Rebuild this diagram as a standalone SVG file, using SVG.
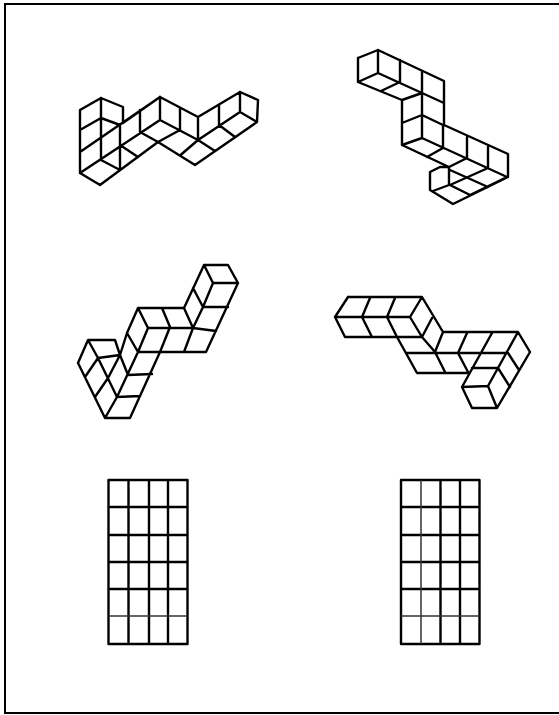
<svg xmlns="http://www.w3.org/2000/svg" width="559" height="715" viewBox="0 0 559 715">
<style>.l{fill:none;stroke:#000;stroke-width:2.4;stroke-linejoin:round;stroke-linecap:round}.t{fill:none;stroke:#333;stroke-width:1.5}.f{fill:none;stroke:#000;stroke-width:2}</style>
<rect width="559" height="715" fill="#fff"/>
<path class="f" d="M559 4H5V713H559"/>
<g id="shape1"><path class="l" d="M80 110V173L100 185L158 142L195 165L257 122L258 100L240 92L198 117L160 97L123 123M80 110L101 98L123 107V123M101 98V160M80 130L101 118L120 125V170M80 152L160 97M80 173L160 120M101 160L120 170M120 145L138 157M140 110V132L158 142M160 97V120L198 140L240 112V92M180 108V130L158 142M198 117V140L180 155.500M219 105V125L235 137M240 112L257 122M198 140L215 151"/></g>
<g id="shape2"><path class="l" d="M358 58L378 50L444 81V125L508 154V177L453 204L430 190V172L440 167H449L402 145V100L358 82V58M378 50V73L358 82M378 73L444 103M400 60V82L381 91M422 72V138L402 145M422 93L402 100M402 123L422 115L443 125M422 138L507 177M443 125V148L427 157M467 137V158L449 167V185L433 191M488 147V168L450 185L470 195L507 177M450 170L488 187L470 195"/></g>
<g id="shape3"><path class="l" d="M204 265H228L238 283H213L204 265L184 308H138L127 333L120 355L115 340H88L78 363L105 418H130L160 352M238 283L206 352H138L127 333M213 283L203 307L193 328L184 352M193 288L203 307H228M184 308L193 328M138 308L148 328L138 352L117 397L105 418M148 328H193L216 331M162 308L170 327L160 352M88 340L98 358L117 397M98 358L120 355M117 397L140 396M128 375L152 374M120 355L128 375M85 377L98 358M120 355L108 378L95 397"/></g>
<g id="shape4"><path class="l" d="M348 297H422L443 332H518L530 352L497 408H472L462 387L488 386L497 408M348 297L335 317L345 337H422M335 317H410L422 297M410 317L422 337L435 352L445 372M370 298L362 317L372 337M395 298L387 317L397 337L417 373H468M432 318L422 337M407 353H508M443 332L435 352M467 333L458 353L468 372M492 333L462 387M518 332L488 386M472 368H498L510 387M508 353L519 370"/></g>
<g id="grid1"><path class="l" style="stroke-linecap:square" d="M108.500 480H187.500V644H108.500ZM128.500 480V644M149 480V644M168 480V644M108.500 507H187.500M108.500 535H187.500M108.500 562H187.500M108.500 589H187.500"/><path class="t" d="M108.500 616H187.500"/></g>
<g id="grid2"><path class="l" style="stroke-linecap:square" d="M401 480H479.500V644H401ZM440.500 480V644M460 480V644M401 507H479.500M401 535H479.500M401 562H479.500M401 589H479.500"/><path class="t" d="M421 480V644M401 616H479.500"/></g>
</svg>
